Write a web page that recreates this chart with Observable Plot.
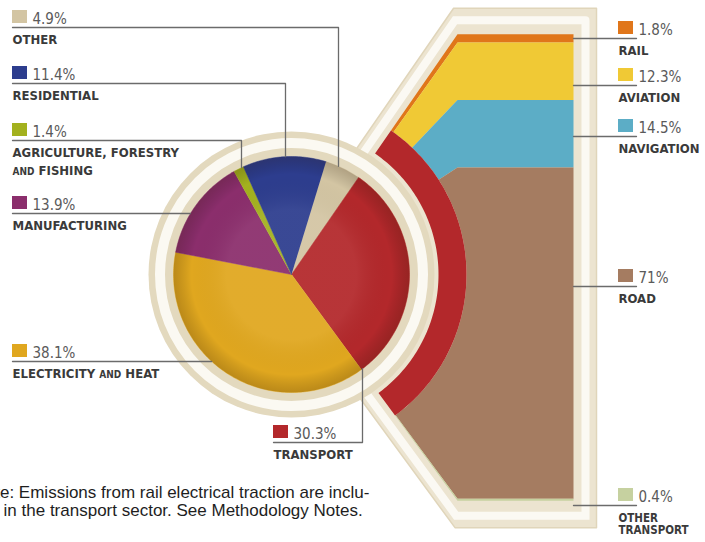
<!DOCTYPE html>
<html><head><meta charset="utf-8">
<script src="https://cdn.jsdelivr.net/npm/d3@7"></script>
<script src="https://cdn.jsdelivr.net/npm/@observablehq/plot@0.6"></script>
<style>
html,body{margin:0;padding:0;background:#fff;}
#chart svg{display:block;background:#fff;}
</style></head><body><div id="chart"></div>
<script>
// ---------------- data ----------------
const sectors = ["Other", "Transport", "Electricity and heat", "Manufacturing", "Agriculture, forestry and fishing", "Residential"];
const sectorShares = [4.9, 30.3, 38.1, 13.9, 1.4, 11.4];
const sectorLabels = [["OTHER"], ["TRANSPORT"], ["ELECTRICITY AND HEAT"], ["MANUFACTURING"], ["AGRICULTURE, FORESTRY", "AND FISHING"], ["RESIDENTIAL"]];
const sectorColors = ["#d3c5a3", "#b3282b", "#e0a71f", "#8b2e6c", "#a3b11e", "#2d3d8e"];

const modes = ["Rail", "Aviation", "Navigation", "Road", "Other transport"];
const modeShares = [1.8, 12.3, 14.5, 71, 0.4];
const modeLabels = [["RAIL"], ["AVIATION"], ["NAVIGATION"], ["ROAD"], ["OTHER", "TRANSPORT"]];
const modeColors = ["#e0761a", "#f0c935", "#5cadc6", "#a57c61", "#c6d1a0"];

const noteLines = ["Note: Emissions from rail electrical traction are inclu-", "ded in the transport sector. See Methodology Notes."];

// ---------------- layout ----------------
const W = 705, H = 542;
const C = {x: 291, y: 274};
const R_PIE = 118, R_RING = 143, R_ARC_IN = 147, R_ARC_OUT = 175;
const START_DEG = 17;
const X0 = 457, X1 = 573;
const FRAME_OFF = {top: 26, right: 23, bottom: 27, ray: 18};
const STRIPE_OFF = {top: 14, right: 12, bottom: 15, ray: 10};
const leftLayout = {
  "Other": {x0: 12, lineY: 27, bendX: 338},
  "Residential": {x0: 12, lineY: 83, bendX: 285},
  "Agriculture, forestry and fishing": {x0: 12, lineY: 140, bendX: 241},
  "Manufacturing": {x0: 12, lineY: 213, bendX: null},
  "Electricity and heat": {x0: 12, lineY: 361, bendX: null},
  "Transport": {x0: 273, lineY: 442, bendX: 362}
};
const rightLineY = [38, 85, 136, 286, 505];
const RIGHT_X = 618, RIGHT_LINE_END = 636;
const LEFT_GAP = 18, RIGHT_GAP = 12;
const NOTE_X = [-27, -30];
const NAME_FONT = "'DejaVu Sans Condensed', 'DejaVu Sans', sans-serif";
const PCT_FONT = "'DejaVu Sans', sans-serif";

// ---------------- geometry from data ----------------
const toRad = d => d * Math.PI / 180;
const pt = (r, a) => ({x: C.x + r * Math.sin(a), y: C.y - r * Math.cos(a)});
function arc(r, a0, a1) {
  const n = Math.max(2, Math.ceil(Math.abs(a1 - a0) / toRad(1)));
  return d3.range(n + 1).map(i => pt(r, a0 + (a1 - a0) * i / n));
}
const pieArcs = d3.pie().sort(null)
  .startAngle(toRad(START_DEG)).endAngle(toRad(START_DEG) + 2 * Math.PI)(sectorShares);

const slicePts = pieArcs.flatMap((a, i) =>
  [{x: C.x, y: C.y}, ...arc(R_PIE, a.startAngle, a.endAngle)]
    .map(p => ({...p, id: "s" + i, fill: sectorColors[i]})));

const tr = pieArcs[sectors.indexOf("Transport")];
const th0 = tr.startAngle, th1 = tr.endAngle;
const yAt = th => C.y - (X0 - C.x) * Math.cos(th) / Math.sin(th);
const thAt = y => Math.atan2(X0 - C.x, C.y - y);
const sy0 = yAt(th0), sy1 = yAt(th1);
const total = d3.sum(modeShares);
const cum = d3.cumsum(modeShares);

const bandPts = modeShares.flatMap((v, i) => {
  const ya = sy0 + (sy1 - sy0) * (cum[i] - v) / total;
  const yb = sy0 + (sy1 - sy0) * cum[i] / total;
  return [pt(R_ARC_OUT, thAt(ya)), {x: X0, y: ya}, {x: X1, y: ya}, {x: X1, y: yb}, {x: X0, y: yb},
    ...arc(R_ARC_OUT, thAt(yb), thAt(ya))].map(p => ({...p, id: "b" + i, fill: modeColors[i]}));
});

const redArcPts = [...arc(R_ARC_OUT, th0, th1), ...arc(R_ARC_IN, th1, th0)]
  .map(p => ({...p, id: "arc", fill: sectorColors[1]}));

// frame: outward offset of the stack outline (top, right, bottom, bottom ray, top ray)
function offsetOutline(off) {
  const P = [{x: X0, y: sy0}, {x: X1, y: sy0}, {x: X1, y: sy1}, {x: X0, y: sy1}, {x: C.x, y: C.y}];
  const d = [off.top, off.right, off.bottom, off.ray, off.ray];
  const lines = P.map((p, i) => {
    const q = P[(i + 1) % P.length];
    const L = Math.hypot(q.x - p.x, q.y - p.y);
    const n = {x: (q.y - p.y) / L, y: -(q.x - p.x) / L};
    return {n, c: n.x * p.x + n.y * p.y + d[i]};
  });
  return lines.map((a, i) => {
    const b = lines[(i + 1) % lines.length];
    const det = a.n.x * b.n.y - a.n.y * b.n.x;
    return {x: (a.c * b.n.y - a.n.y * b.c) / det, y: (a.n.x * b.c - a.c * b.n.x) / det};
  });
}
const frameOuter = offsetOutline(FRAME_OFF);
const frameStripe = offsetOutline(STRIPE_OFF);
const closeRing = pts => [...pts, pts[0]];

// leader lines
const leftLeaders = sectors.flatMap((s, i) => {
  const L = leftLayout[s];
  let pts;
  if (L.bendX != null) {
    const dy = Math.sqrt(R_PIE * R_PIE - (L.bendX - C.x) ** 2);
    const ey = L.lineY < C.y ? C.y - dy : C.y + dy;
    pts = [{x: L.x0, y: L.lineY}, {x: L.bendX, y: L.lineY}, {x: L.bendX, y: ey}];
  } else {
    const ex = C.x - Math.sqrt(R_PIE * R_PIE - (L.lineY - C.y) ** 2);
    pts = [{x: L.x0, y: L.lineY}, {x: ex, y: L.lineY}];
  }
  return pts.map(p => ({...p, id: "l" + i}));
});
const rightLeaders = modes.flatMap((m, i) =>
  [{x: X1, y: rightLineY[i]}, {x: RIGHT_LINE_END, y: rightLineY[i]}].map(p => ({...p, id: "r" + i})));

// label rows
const squares = [
  ...sectors.map((s, i) => ({x1: leftLayout[s].x0, y: leftLayout[s].lineY, fill: sectorColors[i]})),
  ...modes.map((m, i) => ({x1: RIGHT_X, y: rightLineY[i], fill: modeColors[i]}))
];
const pcts = [
  ...sectors.map((s, i) => ({x: leftLayout[s].x0, y: leftLayout[s].lineY, t: sectorShares[i] + "%"})),
  ...modes.map((m, i) => ({x: RIGHT_X, y: rightLineY[i], t: modeShares[i] + "%"}))
];
const names = [
  ...sectors.flatMap((s, i) => sectorLabels[i].map((t, j) => ({x: leftLayout[s].x0, y: leftLayout[s].lineY + 16 + LEFT_GAP * j, t, fs: 13}))),
  ...modes.flatMap((m, i) => modeLabels[i].map((t, j) => ({x: RIGHT_X, y: rightLineY[i] + 16 + RIGHT_GAP * j, t, fs: modeLabels[i].length > 1 ? 11.5 : 13})))
];
const notes = noteLines.map((t, j) => ({t, x: NOTE_X[j], y: 497 + 18 * j}));

// ---------------- plot ----------------
const chart = Plot.plot({
  width: W, height: H, margin: 0,
  x: {domain: [0, W], range: [0, W], axis: null},
  y: {domain: [0, H], range: [0, H], axis: null},
  color: {type: "identity"},
  style: {background: "#fff", overflow: "hidden"},
  marks: [
    // frame around the transport breakdown
    Plot.line(closeRing(frameOuter), {x: "x", y: "y", fill: "#ece4d0", stroke: "#e0d5ba", strokeWidth: 1.5}),
    Plot.line(closeRing(frameStripe), {x: "x", y: "y", fill: "none", stroke: "#fbf9f3", strokeWidth: 8, strokeLinejoin: "miter", strokeMiterlimit: 10}),
    // stacked transport modes
    Plot.line(bandPts, {x: "x", y: "y", z: "id", fill: "fill", stroke: "none"}),
    // exploded transport arc
    Plot.line(redArcPts, {x: "x", y: "y", z: "id", fill: "fill", stroke: "none"}),
    // pie ring
    Plot.dot([C], {x: "x", y: "y", r: R_RING, fill: "#e3d9be", stroke: "none"}),
    Plot.dot([C], {x: "x", y: "y", r: (R_RING + R_PIE) / 2 + 1, fill: "none", stroke: "#fbf9f2", strokeWidth: 10}),
    // pie slices
    Plot.line(slicePts, {x: "x", y: "y", z: "id", fill: "fill", stroke: "fill", strokeWidth: 0.5}),
    Plot.dot([C], {x: "x", y: "y", r: R_PIE, fill: "url(#pieShade)", stroke: "none"}),
    // leader lines
    Plot.line(leftLeaders, {x: "x", y: "y", z: "id", stroke: "#6b6b6b", strokeWidth: 1.3}),
    Plot.line(rightLeaders, {x: "x", y: "y", z: "id", stroke: "#6b6b6b", strokeWidth: 1.3}),
    // labels
    Plot.rect(squares, {x1: "x1", x2: d => d.x1 + 15, y1: d => d.y - 17, y2: d => d.y - 4, fill: "fill"}),
    Plot.text(pcts, {x: d => d.x + 20, y: d => d.y - 4, text: "t", textAnchor: "start", lineAnchor: "bottom",
      fontSize: 15, fontFamily: PCT_FONT, fill: "#5a5a5a"}),
    Plot.text(names, {x: "x", y: "y", text: "t", textAnchor: "start", lineAnchor: "bottom",
      fontSize: "fs", fontWeight: "bold", fontFamily: NAME_FONT, fill: "#3a3a3a"}),
    Plot.text(notes, {x: "x", y: "y", text: "t", textAnchor: "start", lineAnchor: "bottom",
      fontSize: 17, fontFamily: "'Liberation Sans', Arial, sans-serif", fill: "#1e1e1e"})
  ]
});

// gradient definition for subtle pie shading
const svgSel = d3.select(chart);
const defs = svgSel.insert("defs", ":first-child");
const g = defs.append("radialGradient").attr("id", "pieShade");
g.append("stop").attr("offset", "0.55").attr("stop-color", "#fff").attr("stop-opacity", 0.06);
g.append("stop").attr("offset", "0.85").attr("stop-color", "#000").attr("stop-opacity", 0.0);
g.append("stop").attr("offset", "1").attr("stop-color", "#2a1400").attr("stop-opacity", 0.2);

// small caps for "AND"
chart.querySelectorAll("text").forEach(t => {
  const s = t.textContent;
  if (!/\bAND\b/.test(s)) return;
  const parts = s.split(/\b(AND)\b/);
  while (t.firstChild) t.removeChild(t.firstChild);
  parts.forEach(p => {
    if (!p) return;
    const ts = document.createElementNS("http://www.w3.org/2000/svg", "tspan");
    ts.textContent = p;
    if (p === "AND") ts.setAttribute("font-size", "10");
    t.appendChild(ts);
  });
});
chart.querySelectorAll("text").forEach(t => t.style.fontStretch = "condensed");

document.getElementById("chart").appendChild(chart);
</script>
</body></html>
